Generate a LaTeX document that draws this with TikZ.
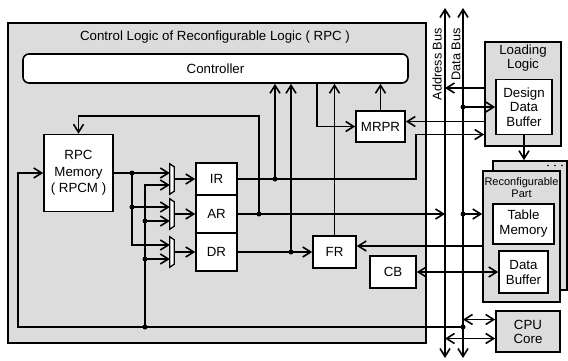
\documentclass[tikz,border=0pt]{standalone}
\usepackage{fontspec}
\setmainfont{Liberation Sans}
\usepackage{xcolor}
\usepackage{tikz}
\usetikzlibrary{arrows.meta}
\definecolor{panel}{RGB}{220,220,220}
\tikzset{
  lbl/.style={inner sep=0pt, align=center, font=\fontsize{13.3}{15}\selectfont},
  box/.style={lbl, draw, fill=white, line width=1.6pt},
  area/.style={lbl, draw, fill=panel, line width=1.6pt},
  wire/.style={line width=1.6pt},
  mux/.style={inner sep=0pt, minimum width=4pt, minimum height=30pt},
  dot/.style={circle, fill, inner sep=0pt, minimum size=5pt}
}

\begin{document}
\begin{tikzpicture}[x=1pt, y=-1pt, >={Straight Barb[length=8pt,width=10pt]}]
\useasboundingbox (0,0) rectangle (568,360);

\node[area, minimum width=418pt, minimum height=320pt] (rpc) at (217,183) {};
\node[lbl] (title) at (215,37) {Control Logic of Reconfigurable Logic ( RPC )};
\node[box, rounded corners=6pt, minimum width=385pt, minimum height=29pt] (ctrl) at (215.5,68.5) {Controller};
\node[box, minimum width=69pt, minimum height=77pt, font=\fontsize{13.3}{16.5}\selectfont] (rpcm) at (78.5,173) {RPC\\Memory\\( RPCM )};
\node[box, minimum width=41pt, minimum height=32pt] (ir) at (216.5,179) {IR};
\node[box, minimum width=41pt, minimum height=38pt] (ar) at (216.5,214) {AR};
\node[box, minimum width=41pt, minimum height=38pt] (dr) at (216.5,252) {DR};
\node[mux] (mx1) at (172,179) {};
\node[mux] (mx2) at (172,214) {};
\node[mux] (mx3) at (172,252) {};
\foreach \m in {mx1,mx2,mx3}
  \draw[line width=1.3pt, fill=white] (\m.north west) -- (\m.south west) -- ([yshift=3pt]\m.south east) -- ([yshift=-3pt]\m.north east) -- cycle;
\node[box, minimum width=49pt, minimum height=31pt] (mrpr) at (380.5,126.5) {MRPR};
\node[box, minimum width=43pt, minimum height=32pt] (fr) at (334.5,252) {FR};
\node[box, minimum width=46pt, minimum height=32pt] (cb) at (393,272) {CB};

\node[area, minimum width=76pt, minimum height=104pt] (load) at (523,94) {};
\node[lbl, font=\fontsize{13.3}{14}\selectfont] (loadtxt) at (523,58) {Loading\\Logic};
\node[box, minimum width=56pt, minimum height=55pt, font=\fontsize{13.3}{14.5}\selectfont] (ddb) at (524,107) {Design\\Data\\Buffer};
\node[area, minimum width=74pt, minimum height=129pt] (rpb) at (530,225.5) {};
\foreach \i in {0,1,2}
  \fill (548+7*\i,165.5) circle (0.9pt);
\node[area, minimum width=77pt, minimum height=131pt] (rp) at (521.5,236.5) {};
\node[lbl, font=\fontsize{11}{11.5}\selectfont] (rptxt) at (521.5,187.5) {Reconfigurable\\Part};
\node[box, minimum width=61pt, minimum height=40pt] (tm) at (523.5,224) {Table\\Memory};
\node[box, minimum width=49pt, minimum height=42pt] (db) at (523.5,272) {Data\\Buffer};
\node[area, minimum width=64pt, minimum height=41pt, font=\fontsize{13.3}{14}\selectfont] (cpu) at (528,331.5) {CPU\\Core};

\coordinate (abt) at (445,8);
\coordinate (abb) at (445,358);
\coordinate (dbt) at (463,8);
\coordinate (dbb) at (463,358);
\draw[wire,<->] (abt) -- (abb);
\draw[wire,<->] (dbt) -- (dbb);
\node[lbl, font=\fontsize{12.7}{14}\selectfont, rotate=90, anchor=east] (ablbl) at (437,28) {Address Bus};
\node[lbl, font=\fontsize{12.7}{14}\selectfont, rotate=90, anchor=east] (dblbl) at (456,28) {Data Bus};

\coordinate (j1) at (132,173);
\coordinate (j2) at (132,207);
\coordinate (k1) at (145,221);
\coordinate (k2) at (145,259);
\coordinate (k3) at (145,327);
\coordinate (irj) at (275,179);
\coordinate (arj) at (259,214);
\coordinate (drj) at (291,252);
\coordinate (bj1) at (463,327);
\coordinate (bj2) at (dbt |- ddb.west);
\coordinate (bj3) at (dbt |- ar.east);
\coordinate (a1) at ([yshift=6pt]mx1.west);
\coordinate (b1) at ([yshift=-6pt]mx1.west);
\coordinate (a2) at ([yshift=7pt]mx2.west);
\coordinate (b2) at ([yshift=-7pt]mx2.west);
\coordinate (a3) at ([yshift=7pt]mx3.west);
\coordinate (b3) at ([yshift=-7pt]mx3.west);
\coordinate (up) at (416,134.5);
\coordinate (cm) at (317,83);
\coordinate (ab) at (445,88);
\coordinate (mrin) at ([yshift=5pt]mrpr.east);
\coordinate (frin) at ([yshift=6pt]fr.east);
\coordinate (cu1) at ([yshift=12pt]cpu.west);
\coordinate (cu2) at ([yshift=-7pt]cpu.west);

\draw[wire,->] (rpcm.east) -- (a1);
\draw[wire,->] (j1) |- (a2);
\draw[wire,->] (j1) |- (a3);
\draw[wire,->] (k3) |- (b1);
\draw[wire,->] (k1) -- (b2);
\draw[wire,->] (k2) -- (b3);
\draw[wire,->] (bj1) -| ([xshift=-25pt]rpcm.west) -- (rpcm.west);
\foreach \m/\r in {mx1/ir,mx2/ar,mx3/dr}
  \draw[wire,->] (\m.east) -- (\r.west);
\draw[wire,->] (ir.east) -| (up) -- (up -| load.west);
\draw[wire,->] (ar.east) -- (ar.east -| abt);
\draw[wire,->] (dr.east) -- (fr.west);
\draw[wire,->] (irj) -- (irj |- ctrl.south);
\draw[wire,->] (drj) -- (drj |- ctrl.south);
\draw[wire,->] (fr.north) -- (fr.north |- ctrl.south);
\draw[wire,->] (arj) -- ++(0,-98) -| (rpcm.north);
\draw[wire,->] (cm) |- (mrpr.west);
\draw[wire,->] (mrpr.north) -- (mrpr.north |- ctrl.south);
\draw[wire,->] (load.west |- mrin) -- (mrin);
\draw[wire,->] (load.west |- ab) -- (ab);
\draw[wire,->] (bj2) -- (ddb.west);
\draw[wire,->] (ddb.south) -- (ddb.south |- rpb.north);
\draw[wire,->] (bj3) -- (bj3 -| rp.west);
\draw[wire,->] (frin -| rp.west) -- (frin);
\draw[wire,<->] (cb.east) -- (db.west);
\draw[wire,<->] (cu1 -| dbt) -- (cu1);
\draw[wire,<->] (cu2 -| abt) -- (cu2);

\foreach \d in {j1,j2,k1,k2,k3,irj,arj,drj,bj1,bj2,bj3}
  \node[dot] (p-\d) at (\d) {};
\end{tikzpicture}
\end{document}
